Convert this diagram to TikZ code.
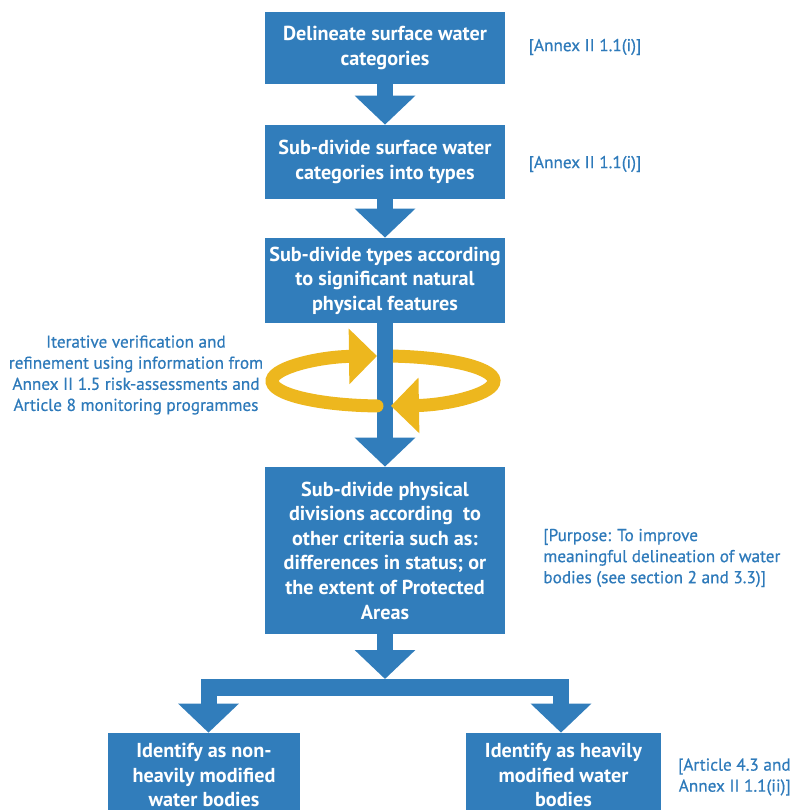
\documentclass[tikz,border=0pt]{standalone}
\usepackage{fontspec}
\setmainfont{PT Sans}
\newfontfamily\notefont[FakeBold=0.6]{PT Sans}
\usetikzlibrary{arrows.meta}
\definecolor{boxblue}{RGB}{49,125,187}
\definecolor{noteblue}{RGB}{46,122,186}
\definecolor{loopyellow}{RGB}{237,183,30}
\tikzset{
  stepbox/.style={fill=boxblue, text=white, align=center, inner sep=0pt, font=\fontsize{11.5}{14}\selectfont\bfseries},
  note/.style={text=noteblue, inner sep=0pt, font=\notefont\fontsize{9.8}{12}\selectfont},
  blockarrow/.style={draw=boxblue, line width=0.32cm, -{Triangle[width=1.18cm,length=0.58cm]}},
  looparrow/.style={draw=loopyellow, line width=0.26cm, -{Triangle[width=1.08cm,length=0.56cm]}}
}

\begin{document}
\begin{tikzpicture}[x=0.02cm,y=-0.02cm]
\useasboundingbox (0,0) rectangle (796,810);
\node[stepbox, minimum width=4.8cm, minimum height=1.44cm] (b1) at (385,48) {Delineate surface water\\categories};
\node[stepbox, minimum width=4.8cm, minimum height=1.48cm] (b2) at (385,162) {Sub-divide surface water\\categories into types};
\node[stepbox, minimum width=4.8cm, minimum height=1.7cm] (b3) at (385,280.5) {Sub-divide types according\\to significant natural\\physical features};
\node[stepbox, minimum width=4.8cm, minimum height=3.34cm] (b4) at (385,550.5) {Sub-divide physical\\divisions according~ to\\other criteria such as:\\differences in status; or\\the extent of Protected\\Areas};
\node[stepbox, minimum width=3.84cm, minimum height=1.68cm] (b5) at (204,775) {Identify as non-\\heavily modified\\water bodies};
\node[stepbox, minimum width=3.9cm, minimum height=1.68cm] (b6) at (563.5,775) {Identify as heavily\\modified water\\bodies};

\node[note] (annex1) at (585,47) {[Annex II 1.1(i)]};
\node[note] (annex2) at (585,164) {[Annex II 1.1(i)]};
\node[note, align=center] (loopnote) at (136,375) {Iterative verification and\\refinement using information from\\Annex II 1.5 risk-assessments and\\Article 8 monitoring programmes};
\node[note, anchor=west, align=left] (purpose) at (543,558) {[Purpose: To improve\\meaningful delineation of water\\bodies (see section 2 and 3.3)]};
\node[note, anchor=east, align=right] (article) at (791,777) {[Article 4.3 and\\Annex II 1.1(ii)]};

\draw[blockarrow] (b1) -- (b2);
\draw[blockarrow] (b2) -- (b3);
\draw[blockarrow] (b3) -- (b4);

\draw[looparrow] (383,381) ++(84.8:2.22cm and 0.5cm) arc[start angle=84.8, end angle=-85.9, x radius=2.22cm, y radius=0.5cm];
\draw[looparrow, line cap=round] (383,381) ++(266.9:2.22cm and 0.5cm) arc[start angle=266.9, end angle=93.1, x radius=2.22cm, y radius=0.5cm];

\coordinate (barL) at (201,679);
\coordinate (barR) at (569,696);
\fill[boxblue] (barL) rectangle (barR);
\draw[blockarrow] (b4) -- (b4.south |- barL);
\coordinate (dropL) at (208.5,696);
\coordinate (dropR) at (561,696);
\draw[blockarrow] (dropL) -- (dropL |- b5.north);
\draw[blockarrow] (dropR) -- (dropR |- b6.north);
\end{tikzpicture}
\end{document}
